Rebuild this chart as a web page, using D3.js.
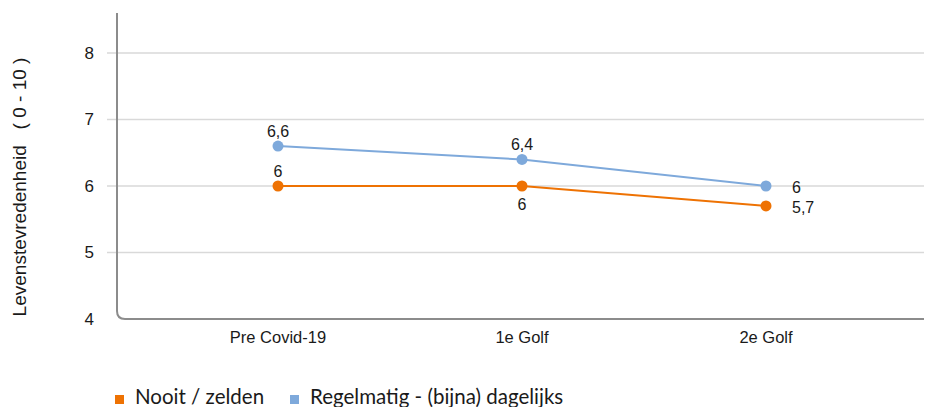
<!DOCTYPE html>
<html>
<head>
<meta charset="utf-8">
<script src="https://cdn.jsdelivr.net/npm/d3@7"></script>
<style>
  html, body { margin: 0; padding: 0; background: #fff; }
  svg { display: block; }
  text { font-family: "Liberation Sans", Arial, sans-serif; fill: #1a1a1a; }
</style>
</head>
<body>
<svg id="chart" width="926" height="407"></svg>
<script>
// Periods along the x axis
const periods = ["Pre Covid-19", "1e Golf", "2e Golf"];
// Life satisfaction (0-10) per group
const nooitZelden = [6, 6, 5.7];
const regelmatig = [6.6, 6.4, 6];
// Y axis ticks
const yTicks = [4, 5, 6, 7, 8];
const seriesNames = ["Nooit / zelden", "Regelmatig - (bijna) dagelijks"];
const seriesColors = ["#EE7203", "#7EA9DB"];

const svg = d3.select("#chart");

const x = d3.scalePoint().domain(periods).range([278, 766]);
const y = d3.scaleLinear().domain([4, 8]).range([319, 53]);

const axisX = 117, axisTop = 13, axisRight = 924, r = 8;

// Horizontal gridlines (with short ticks left of the axis)
svg.append("g")
  .selectAll("line")
  .data(yTicks.filter(d => d !== 4))
  .join("line")
  .attr("x1", 107).attr("x2", axisRight)
  .attr("y1", d => y(d)).attr("y2", d => y(d))
  .attr("stroke", "#d9d9d9").attr("stroke-width", 1.3);

// Axis frame: vertical and horizontal axis joined by a rounded corner
const yBase = y(4);
svg.append("path")
  .attr("d", `M${axisX},${axisTop} V${yBase - r} Q${axisX},${yBase} ${axisX + r},${yBase} H${axisRight}`)
  .attr("fill", "none")
  .attr("stroke", "#8c8c8c")
  .attr("stroke-width", 2);

// Y tick labels
svg.append("g")
  .selectAll("text")
  .data(yTicks)
  .join("text")
  .attr("x", 94)
  .attr("y", d => y(d))
  .attr("dy", "0.35em")
  .attr("text-anchor", "end")
  .attr("font-size", 17)
  .text(d => d);

// X category labels
svg.append("g")
  .selectAll("text")
  .data(periods)
  .join("text")
  .attr("x", d => x(d))
  .attr("y", 343)
  .attr("text-anchor", "middle")
  .attr("font-size", 16.5)
  .text(d => d);

// Y axis title
svg.append("text")
  .attr("transform", "translate(26,187) rotate(-90)")
  .attr("text-anchor", "middle")
  .attr("font-size", 19)
  .style("white-space", "pre")
  .text("Levenstevredenheid   ( 0 - 10 )");

const fmt = v => String(v).replace(".", ",");
const line = d3.line().x((d, i) => x(periods[i])).y(d => y(d));

const series = [nooitZelden, regelmatig];

series.forEach((vals, s) => {
  const g = svg.append("g");
  g.append("path")
    .datum(vals)
    .attr("d", line)
    .attr("fill", "none")
    .attr("stroke", seriesColors[s])
    .attr("stroke-width", 2);
  g.selectAll("circle")
    .data(vals)
    .join("circle")
    .attr("cx", (d, i) => x(periods[i]))
    .attr("cy", d => y(d))
    .attr("r", 5.5)
    .attr("fill", seriesColors[s]);
});

// Value labels: placement per point (above, below, right)
const placement = [
  ["above", "below", "right"],
  ["above", "above", "right"]
];
series.forEach((vals, s) => {
  svg.append("g")
    .selectAll("text")
    .data(vals)
    .join("text")
    .attr("x", (d, i) => placement[s][i] === "right" ? x(periods[i]) + 26 : x(periods[i]))
    .attr("y", (d, i) => {
      const p = placement[s][i], cy = y(d);
      if (p === "above") return cy - 9;
      if (p === "below") return cy + 24;
      return cy + 7;
    })
    .attr("text-anchor", (d, i) => placement[s][i] === "right" ? "start" : "middle")
    .attr("font-size", 16)
    .text(d => fmt(d));
});

// Legend
const legend = svg.append("g");
const legendX = [115, 290];
seriesNames.forEach((name, s) => {
  legend.append("rect")
    .attr("x", legendX[s]).attr("y", 395)
    .attr("width", 9).attr("height", 9)
    .attr("fill", seriesColors[s]);
  legend.append("text")
    .attr("x", legendX[s] + 20).attr("y", 404)
    .attr("font-size", 20.5)
    .style("font-family", "Lato, 'Open Sans', sans-serif")
    .text(name);
});
</script>
</body>
</html>
